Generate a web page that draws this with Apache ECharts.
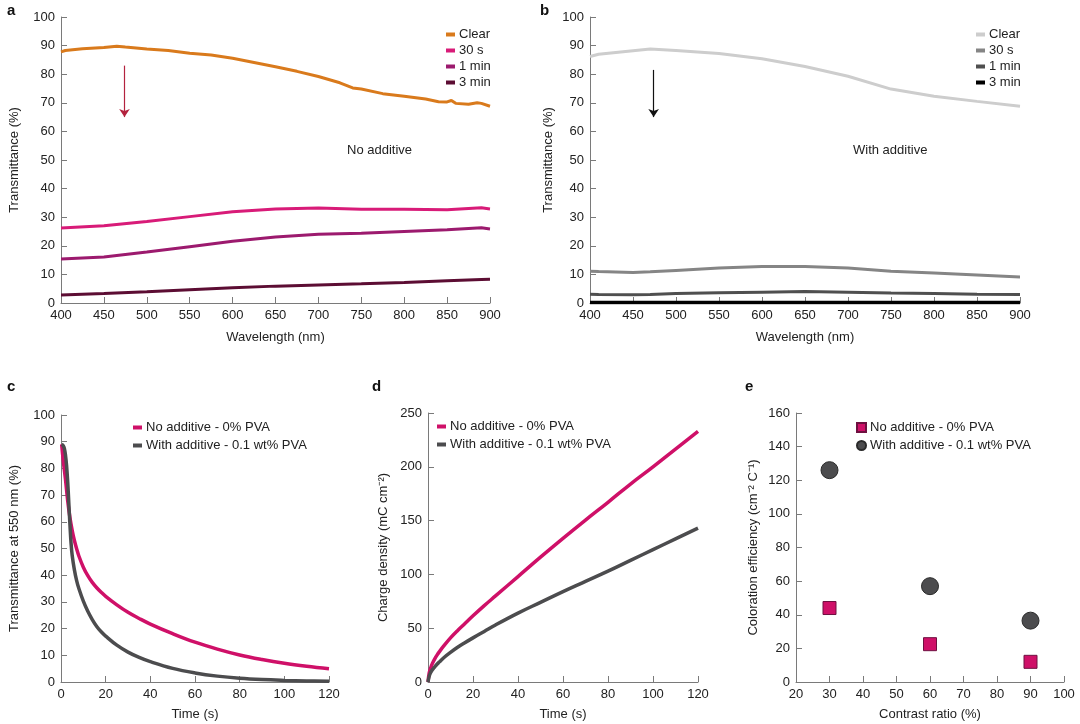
<!DOCTYPE html>
<html><head><meta charset="utf-8">
<script src="https://cdn.jsdelivr.net/npm/echarts@6/dist/echarts.min.js"></script>
<style>html,body{margin:0;padding:0;background:#fff}#c{width:1080px;height:724px}</style>
</head><body><div id="c"></div>
<script>
// ---- Panel a / b : spectra ----
const wlA = [400,405,425,450,465,475,500,525,550,575,600,625,650,675,700,725,740,750,775,800,825,840,850,855,860,875,885,890,900];
const clearA = [87.8,88.3,88.9,89.3,89.8,89.5,88.8,88.3,87.3,86.7,85.6,84.1,82.6,81.0,79.2,77.0,75.2,74.8,73.2,72.3,71.3,70.4,70.3,70.8,69.8,69.5,70.0,69.8,68.8];
const wl = [400,450,500,550,600,650,700,750,800,850,890,900];
const s30A = [26.2,27.0,28.5,30.2,31.9,32.9,33.2,32.8,32.8,32.6,33.3,32.9];
const m1A = [15.4,16.1,17.8,19.7,21.6,23.1,24.0,24.4,25.0,25.6,26.3,25.9];
const m3A = [2.8,3.3,3.9,4.6,5.3,5.9,6.3,6.7,7.2,7.8,8.2,8.3];
const wlB = [400,410,450,470,500,550,600,650,700,750,800,850,900];
const clearB = [86.2,87.0,88.2,88.8,88.3,87.2,85.4,82.7,79.3,74.8,72.3,70.5,68.8];
const s30B = [11.1,11.0,10.7,10.9,11.4,12.2,12.8,12.8,12.2,11.1,10.5,9.8,9.1];
const m1B = [3.1,3.0,2.9,3.0,3.3,3.6,3.8,4.0,3.8,3.5,3.3,3.1,3.0];
const m3B = [0.2,0.2,0.2,0.2,0.2,0.2,0.2,0.2,0.2,0.2,0.2,0.2,0.2];
// ---- Panel c : transmittance vs time ----
const tNoCx = [0.3,1,2,3,4,5,6,7,8,10,12,14,16,18,20,25,30,35,40,50,60,70,80,90,100,110,120];
const tNoC  = [89,83,75.9,67.9,61.6,56.8,53,49.9,47.2,43,39.8,37.3,35.3,33.6,32.1,28.9,26.1,23.8,21.7,18.1,14.9,12.3,10.1,8.4,7.0,5.9,5.0];
const tWithCx = [0.3,1,1.5,2,2.5,3,3.5,4,4.5,5,6,7,8,10,12,14,16,18,20,25,30,35,40,50,60,70,80,90,100,110,120];
const tWithC  = [89,88.5,87.5,85,81,75,67,59,52,47.5,42,38,35,30.3,26.5,23.4,20.8,18.8,17.2,13.8,11.2,9.2,7.6,5.1,3.4,2.2,1.4,0.9,0.6,0.4,0.3];
// ---- Panel d : charge density ----
const tD = [0,0.5,1,1.5,2,3,4,5,7,10,13,16,20,25,30,40,50,60,70,80,90,100,110,120];
const qNoD   = [0,8,12,15,17.5,21.5,25,28,33.5,41,47.5,53.5,61.5,71,80,98,116,133.5,150.5,167,184,200,216.5,233];
const qWithD = [0,5,8,10,11.5,14,16.5,18.5,22.5,27.5,32,36,41,47,53,64,74,84,93.5,103,113,123,133,143];
// ---- Panel e : coloration efficiency ----
const crE = [30,60,90];
const ceNoE = [44,22.5,12];
const ceWithE = [126,57,36.5];

const legA = ['Clear','30 s','1 min','3 min'];
const legC = ['No additive - 0% PVA','With additive - 0.1 wt% PVA'];

const FONT = '"Liberation Sans", Arial, Helvetica, sans-serif';
const AX = '#7a7a7a', TX = '#222';
const pairs = (xs, ys) => xs.map((x,i)=>[x, ys[i]]);

function xAx(g, min, max, interval, name, gap){
  return {type:'value', gridIndex:g, min, max, interval, name, nameLocation:'middle', nameGap:gap,
    nameTextStyle:{fontSize:13,color:TX,fontFamily:FONT},
    axisLine:{show:true,onZero:false,lineStyle:{color:AX,width:1}},
    axisTick:{show:true,inside:true,length:6,lineStyle:{color:AX}},
    axisLabel:{fontSize:13,color:TX,margin:6,fontFamily:FONT,showMinLabel:true,showMaxLabel:true},
    splitLine:{show:false}};
}
function yAx(g, min, max, interval, name, gap){
  const a = xAx(g, min, max, interval, name, gap);
  a.nameRotate = 90;
  return a;
}
function line(name, x, y, g, color, w){
  return {type:'line', name, xAxisIndex:g, yAxisIndex:g, data:pairs(x,y), symbol:'none',
    lineStyle:{color, width:w}, itemStyle:{color}, smooth:false, z:3};
}
function sline(name, x, y, g, color, w){
  const s = line(name, x, y, g, color, w); s.smooth = 0.4; return s;
}
const strip = n => n.replace(/^[a-e]_/, '');
function legend(names, left, top, extra){
  return Object.assign({data:names, left, top, orient:'vertical', itemWidth:9, itemHeight:4, itemGap:3,
    icon:'rect', selectedMode:false, formatter:strip,
    textStyle:{fontSize:13,color:TX,fontFamily:FONT,padding:[0,0,0,-1]}}, extra||{});
}
function arrow(x, y0, y1, color){
  return {silent:true, symbol:['none','arrow'], symbolSize:8, precision:2,
    lineStyle:{color, width:1.2, type:'solid'}, itemStyle:{color}, label:{show:false},
    emphasis:{disabled:true},
    data:[[{coord:[x,y0]},{coord:[x,y1]}]]};
}

const colA = ['#d97a1c','#d81b78','#9c1a6e','#5c0d33'];
const colB = ['#cdcdcd','#858585','#4f4f4f','#000000'];
const PINK = '#cf1068', GRAY = '#4c4c4e';

const option = {
  animation:false,
  textStyle:{fontFamily:FONT},
  grid:[
    {left:61, top:17, width:429, height:286},
    {left:590, top:17, width:430, height:286},
    {left:61, top:415, width:268, height:267},
    {left:428, top:413, width:270, height:269},
    {left:796, top:413, width:268, height:269}
  ],
  xAxis:[
    xAx(0,400,900,50,'Wavelength (nm)',28),
    xAx(1,400,900,50,'Wavelength (nm)',28),
    xAx(2,0,120,20,'Time (s)',26),
    xAx(3,0,120,20,'Time (s)',26),
    xAx(4,20,100,10,'Contrast ratio (%)',26)
  ],
  yAxis:[
    yAx(0,0,100,10,'Transmittance (%)',40),
    yAx(1,0,100,10,'Transmittance (%)',35),
    yAx(2,0,100,10,'Transmittance at 550 nm (%)',40),
    yAx(3,0,250,50,'Charge density (mC cm\u207B\u00B2)',38),
    yAx(4,0,160,20,'Coloration efficiency (cm\u207B\u00B2 C\u207B\u00B9)',36)
  ],
  legend:[
    legend(legA.map(n=>'a_'+n), 441, 23),
    legend(legA.map(n=>'b_'+n), 971, 23),
    legend(legC.map(n=>'c_'+n), 128, 416, {itemGap:5}),
    legend(legC.map(n=>'d_'+n), 432, 415, {itemGap:5}),
    legend(legC.map(n=>'e_'+n), 851, 416, {itemGap:5, itemWidth:9, itemHeight:9, icon:null})
  ],
  series:[
    Object.assign(line('a_'+legA[0], wlA, clearA, 0, colA[0], 3), {markLine:arrow(474, 83, 65, '#b3223e')}),
    line('a_'+legA[1], wl, s30A, 0, colA[1], 3),
    line('a_'+legA[2], wl, m1A, 0, colA[2], 3),
    line('a_'+legA[3], wl, m3A, 0, colA[3], 3),
    Object.assign(line('b_'+legA[0], wlB, clearB, 1, colB[0], 3), {markLine:arrow(474, 81.5, 65, '#111')}),
    line('b_'+legA[1], wlB, s30B, 1, colB[1], 3),
    line('b_'+legA[2], wlB, m1B, 1, colB[2], 3),
    line('b_'+legA[3], wlB, m3B, 1, colB[3], 3.5),
    sline('c_'+legC[0], tNoCx, tNoC, 2, PINK, 3.5),
    sline('c_'+legC[1], tWithCx, tWithC, 2, GRAY, 3.5),
    sline('d_'+legC[0], tD, qNoD, 3, PINK, 3.5),
    sline('d_'+legC[1], tD, qWithD, 3, GRAY, 3.5),
    {type:'scatter', name:'e_'+legC[0], xAxisIndex:4, yAxisIndex:4, data:pairs(crE, ceNoE),
      symbol:'rect', symbolSize:13, itemStyle:{color:PINK, borderColor:'#6e1040', borderWidth:1, opacity:1}},
    {type:'scatter', name:'e_'+legC[1], xAxisIndex:4, yAxisIndex:4, data:pairs(crE, ceWithE),
      symbol:'circle', symbolSize:17, itemStyle:{color:GRAY, borderColor:'#2a2a2a', borderWidth:1, opacity:1}}
  ],
  graphic:[
    {type:'text', left:7, top:3, style:{text:'a', font:'bold 15px '+FONT, fill:'#111'}},
    {type:'text', left:540, top:3, style:{text:'b', font:'bold 15px '+FONT, fill:'#111'}},
    {type:'text', left:7, top:379, style:{text:'c', font:'bold 15px '+FONT, fill:'#111'}},
    {type:'text', left:372, top:379, style:{text:'d', font:'bold 15px '+FONT, fill:'#111'}},
    {type:'text', left:745, top:379, style:{text:'e', font:'bold 15px '+FONT, fill:'#111'}},
    {type:'text', left:347, top:144, style:{text:'No additive', font:'13px '+FONT, fill:TX}},
    {type:'text', left:853, top:144, style:{text:'With additive', font:'13px '+FONT, fill:TX}}
  ]
};
const chart = echarts.init(document.getElementById('c'));
chart.setOption(option);
</script>
</body></html>
